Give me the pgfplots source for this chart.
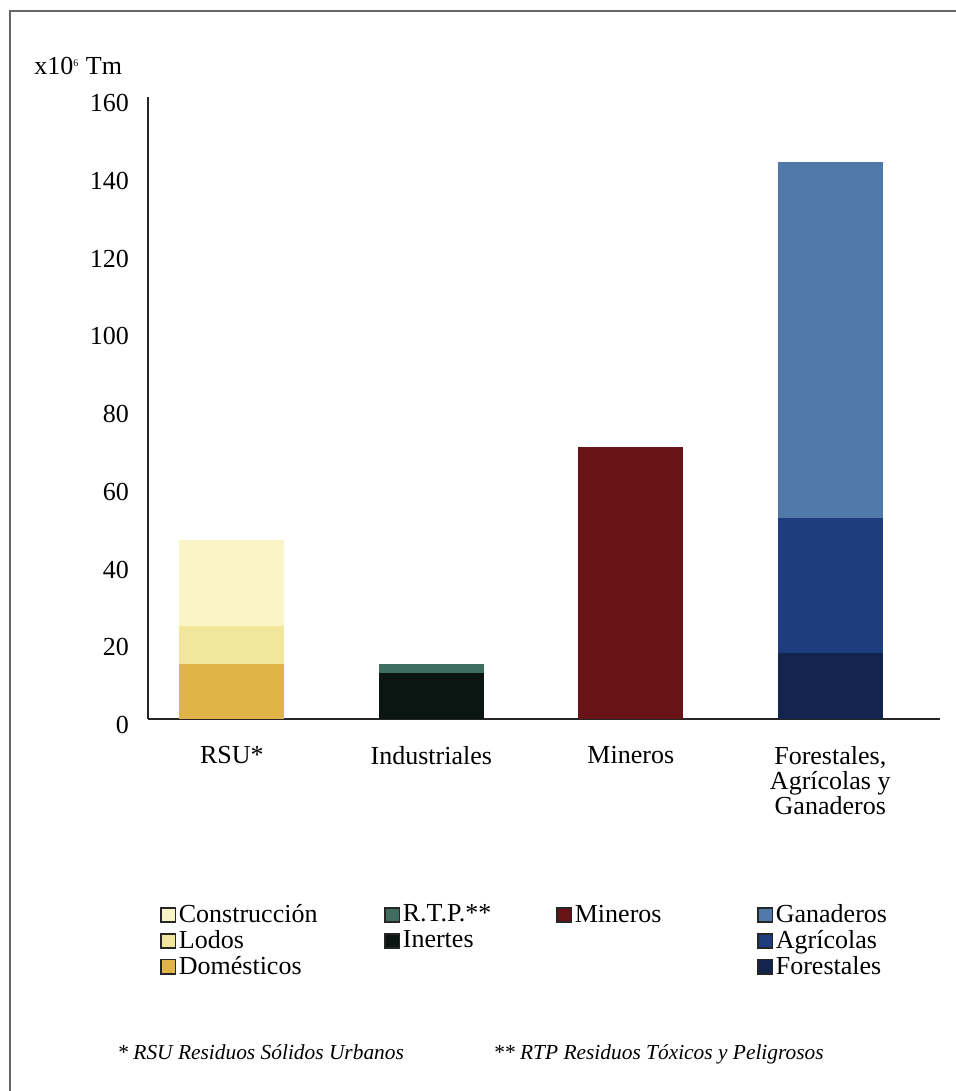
\documentclass[border=0pt]{standalone}
\usepackage{fontspec}
\setmainfont{Liberation Serif}
\usepackage{pgfplots}
\usepackage{pgfplotstable}
\pgfplotsset{compat=1.18}
\definecolor{cCon}{HTML}{FAF5C6}
\definecolor{cLod}{HTML}{F2E59C}
\definecolor{cDom}{HTML}{E1B44A}
\definecolor{cRTP}{HTML}{3F6E60}
\definecolor{cIne}{HTML}{0B1511}
\definecolor{cMin}{HTML}{6A1317}
\definecolor{cGan}{HTML}{5079A9}
\definecolor{cAgr}{HTML}{1D3D7E}
\definecolor{cFor}{HTML}{13244F}
\pgfplotstableread{
x Dom Lod Con Ine RTP Min For Agr Gan
0 14.1 9.8 22.1 0 0 0 0 0 0
1 0 0 0 11.8 2.3 0 0 0 0
2 0 0 0 0 0 70 0 0 0
3 0 0 0 0 0 0 17 34.7 91.7
}\datatable
\newcommand{\lbl}{\fontsize{13}{12.5}\selectfont}
\begin{document}
\begin{tikzpicture}
\path[use as bounding box] (0pt,0pt) rectangle (477.5pt,545.5pt);
\draw[black!60, line width=1pt] (5pt,-5pt) -- (5pt,540pt) -- (490pt,540pt);
\node[anchor=base west, inner sep=0pt, font=\lbl] at (17pt,508pt) {x10\textsuperscript{\tiny 6} Tm};
\begin{axis}[
  at={(74pt,186pt)}, anchor=south west,
  scale only axis, width=396pt, height=311pt,
  ybar stacked, bar width=52.5pt,
  xmin=-0.42, xmax=3.55, ymin=0, ymax=160,
  axis x line*=bottom, axis y line*=left,
  axis line style={-, line width=1pt, black!85},
  ytick={0,20,...,160},
  xtick={0,1,2,3},
  xticklabels={RSU*, Industriales, Mineros, {Forestales,\\Agrícolas y\\Ganaderos}},
  major tick length=0pt,
  /pgf/number format/assume math mode=true,
  yticklabel style={font=\lbl, xshift=-6pt, yshift=-3pt},
  xticklabel style={font=\lbl, align=center, yshift=-10pt},
  legend image code/.code={\draw[#1,draw=black!85,line width=0.9pt] (0pt,-3.6pt) rectangle (7.2pt,3.6pt);},
  legend columns=4,
  legend style={at={(0.015,-0.2936)}, anchor=north west, draw=none, fill=none,
    inner sep=0pt, font=\lbl, nodes={inner sep=1.2pt},
    row sep=0pt},
  legend cell align=left,
]
\addplot[fill=cDom, draw=none, forget plot] table[x=x, y=Dom] {\datatable};
\addplot[fill=cLod, draw=none, forget plot] table[x=x, y=Lod] {\datatable};
\addplot[fill=cCon, draw=none, forget plot] table[x=x, y=Con] {\datatable};
\addplot[fill=cIne, draw=none, forget plot] table[x=x, y=Ine] {\datatable};
\addplot[fill=cRTP, draw=none, forget plot] table[x=x, y=RTP] {\datatable};
\addplot[fill=cMin, draw=none, forget plot] table[x=x, y=Min] {\datatable};
\addplot[fill=cFor, draw=none, forget plot] table[x=x, y=For] {\datatable};
\addplot[fill=cAgr, draw=none, forget plot] table[x=x, y=Agr] {\datatable};
\addplot[fill=cGan, draw=none, forget plot] table[x=x, y=Gan] {\datatable};
% legend row 1
\addlegendimage{fill=cCon}\addlegendentry{\makebox[101.5pt][l]{Construcción}}
\addlegendimage{fill=cRTP}\addlegendentry{\makebox[75.5pt][l]{R.T.P.**}}
\addlegendimage{fill=cMin}\addlegendentry{\makebox[90pt][l]{Mineros}}
\addlegendimage{fill=cGan}\addlegendentry{Ganaderos}
% row 2
\addlegendimage{fill=cLod}\addlegendentry{Lodos}
\addlegendimage{fill=cIne}\addlegendentry{Inertes}
\addlegendimage{empty legend}\addlegendentry{}
\addlegendimage{fill=cAgr}\addlegendentry{Agrícolas}
% row 3
\addlegendimage{fill=cDom}\addlegendentry{Domésticos}
\addlegendimage{empty legend}\addlegendentry{}
\addlegendimage{empty legend}\addlegendentry{}
\addlegendimage{fill=cFor}\addlegendentry{Forestales}
\end{axis}
\node[anchor=base west, inner sep=0pt, font=\fontsize{10.7}{12}\selectfont\itshape] at (58.5pt,16pt) {* RSU Residuos Sólidos Urbanos};
\node[anchor=base west, inner sep=0pt, font=\fontsize{10.7}{12}\selectfont\itshape] at (246.5pt,16pt) {** RTP Residuos Tóxicos y Peligrosos};
\end{tikzpicture}
\end{document}
